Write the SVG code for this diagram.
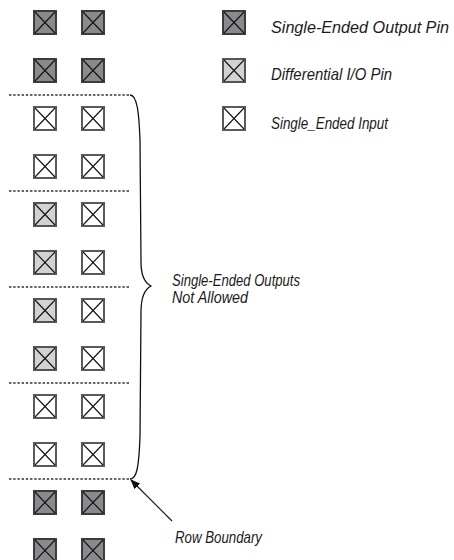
<svg xmlns="http://www.w3.org/2000/svg" width="454" height="560" viewBox="0 0 454 560">
<style>
.lbl{font-family:"Liberation Sans","DejaVu Sans",Arial,sans-serif;font-style:italic;font-size:16.5px;fill:#1a1a1a}
.bnd{stroke:#333;stroke-width:1.3;stroke-dasharray:2.4,1.8;fill:none}
.x{stroke:#111;stroke-width:1.1;fill:none}
</style>
<defs>
<g id="dk"><rect x="1" y="1" width="22" height="23" fill="#8a8a8c" stroke="#3c3c3c" stroke-width="2"/><path class="x" d="M2,2 L22,23 M22,2 L2,23"/></g>
<g id="lt"><rect x="1" y="1" width="22" height="23" fill="#d2d2d2" stroke="#555" stroke-width="2"/><path class="x" d="M2,2 L22,23 M22,2 L2,23"/></g>
<g id="wt"><rect x="1" y="1" width="22" height="23" fill="#ffffff" stroke="#5a5a5a" stroke-width="2"/><path class="x" d="M2,2 L22,23 M22,2 L2,23"/></g>
<marker id="ah" markerWidth="10" markerHeight="8" refX="9" refY="4" orient="auto" markerUnits="userSpaceOnUse"><path d="M0,0 L10,4 L0,8 Z" fill="#111"/></marker>
</defs>
<g id="pins">
<g id="r1c1"><use href="#dk" x="33" y="10"/></g><g id="r1c2"><use href="#dk" x="81" y="10"/></g>
<g id="r2c1"><use href="#dk" x="33" y="58"/></g><g id="r2c2"><use href="#dk" x="81" y="58"/></g>
<g id="r3c1"><use href="#wt" x="33" y="106"/></g><g id="r3c2"><use href="#wt" x="81" y="106"/></g>
<g id="r4c1"><use href="#wt" x="33" y="154"/></g><g id="r4c2"><use href="#wt" x="81" y="154"/></g>
<g id="r5c1"><use href="#lt" x="33" y="202"/></g><g id="r5c2"><use href="#wt" x="81" y="202"/></g>
<g id="r6c1"><use href="#lt" x="33" y="250"/></g><g id="r6c2"><use href="#wt" x="81" y="250"/></g>
<g id="r7c1"><use href="#lt" x="33" y="298"/></g><g id="r7c2"><use href="#wt" x="81" y="298"/></g>
<g id="r8c1"><use href="#lt" x="33" y="346"/></g><g id="r8c2"><use href="#wt" x="81" y="346"/></g>
<g id="r9c1"><use href="#wt" x="33" y="394"/></g><g id="r9c2"><use href="#wt" x="81" y="394"/></g>
<g id="r10c1"><use href="#wt" x="33" y="442"/></g><g id="r10c2"><use href="#wt" x="81" y="442"/></g>
<g id="r11c1"><use href="#dk" x="33" y="490"/></g><g id="r11c2"><use href="#dk" x="81" y="490"/></g>
<g id="r12c1"><use href="#dk" x="33" y="538"/></g><g id="r12c2"><use href="#dk" x="81" y="538"/></g>
</g>
<g id="legend">
<g id="leg-out"><use href="#dk" x="222" y="10"/><text class="lbl" x="271" y="33" textLength="178" lengthAdjust="spacingAndGlyphs">Single-Ended Output Pin</text></g>
<g id="leg-diff"><use href="#lt" x="222" y="58"/><text class="lbl" x="271" y="80" textLength="121" lengthAdjust="spacingAndGlyphs">Differential I/O Pin</text></g>
<g id="leg-in"><use href="#wt" x="222" y="106"/><text class="lbl" x="271" y="129" textLength="117" lengthAdjust="spacingAndGlyphs">Single_Ended Input</text></g>
</g>
<g id="boundaries">
<line class="bnd" x1="9" y1="95" x2="130" y2="95"/>
<line class="bnd" x1="9" y1="191" x2="130" y2="191"/>
<line class="bnd" x1="9" y1="287" x2="130" y2="287"/>
<line class="bnd" x1="9" y1="383" x2="130" y2="383"/>
<line class="bnd" x1="9" y1="479" x2="130" y2="479"/>
</g>
<g id="connectors">
<path d="M130,95 C137,95 139,112 140,140 L141,262 C141,276 145,283 151,286 C145,289 141,296 141,312 L140,436 C139,466 137,479 130,479" fill="none" stroke="#111" stroke-width="1.3"/>
<line x1="172" y1="521" x2="131" y2="480" stroke="#111" stroke-width="1.1" marker-end="url(#ah)"/>
</g>
<g id="notes">
<text class="lbl" x="172" y="286" textLength="128" lengthAdjust="spacingAndGlyphs">Single-Ended Outputs</text>
<text class="lbl" x="172" y="303" textLength="76" lengthAdjust="spacingAndGlyphs">Not Allowed</text>
<text class="lbl" x="175" y="543" textLength="87" lengthAdjust="spacingAndGlyphs">Row Boundary</text>
</g>
</svg>
